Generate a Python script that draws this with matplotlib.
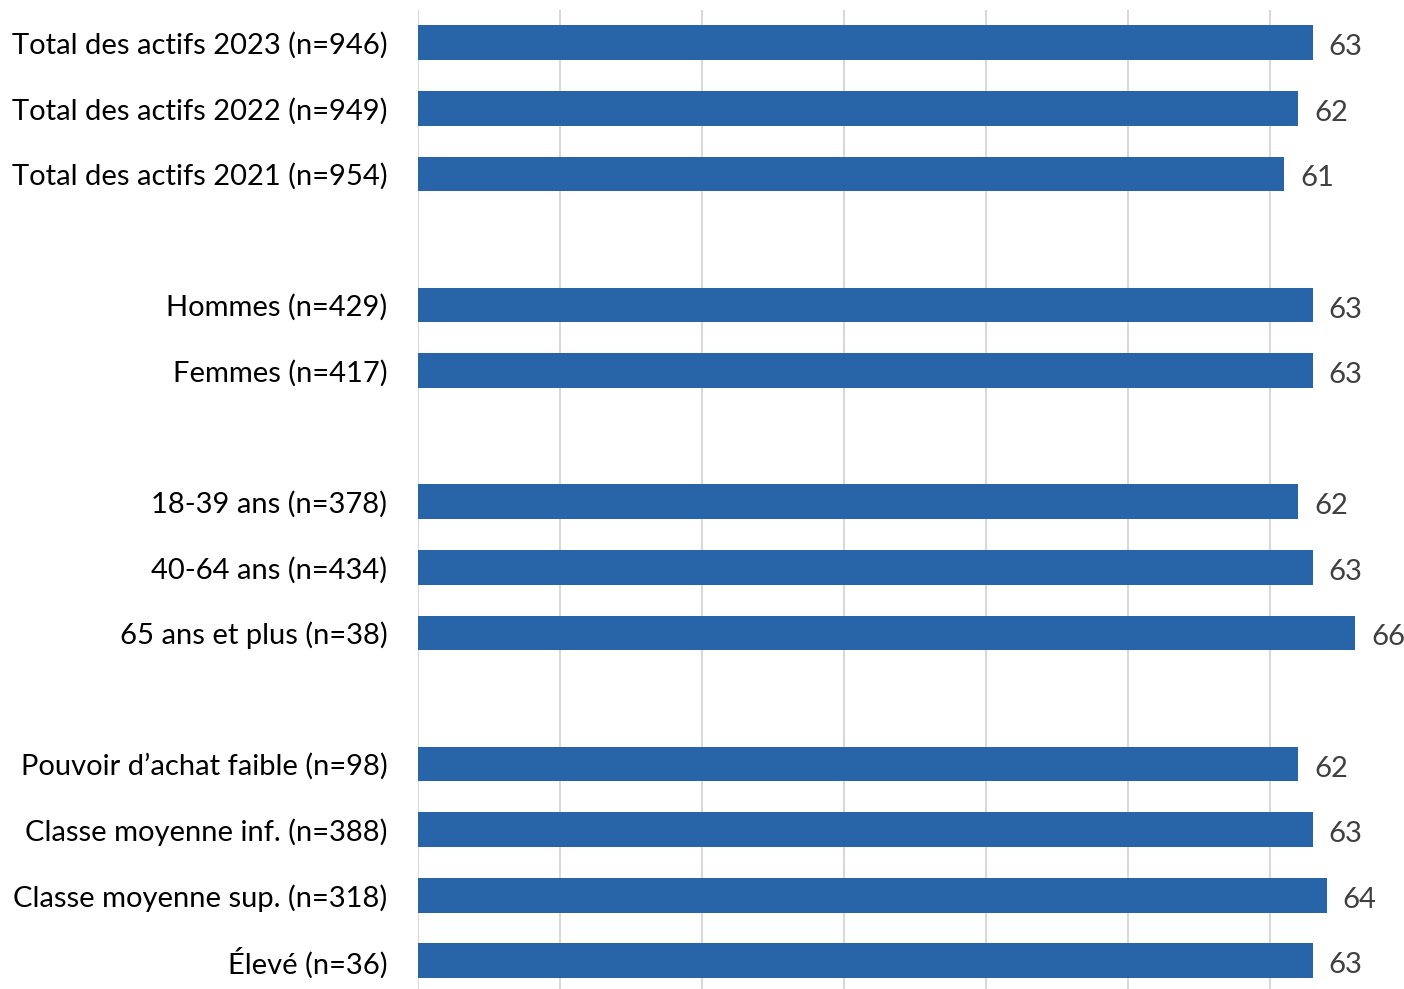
import matplotlib
matplotlib.use("Agg")
import matplotlib.pyplot as plt

categories = [
    "Total des actifs 2023 (n=946)",
    "Total des actifs 2022 (n=949)",
    "Total des actifs 2021 (n=954)",
    None,
    "Hommes (n=429)",
    "Femmes (n=417)",
    None,
    "18-39 ans (n=378)",
    "40-64 ans (n=434)",
    "65 ans et plus (n=38)",
    None,
    "Pouvoir d\u2019achat faible (n=98)",
    "Classe moyenne inf. (n=388)",
    "Classe moyenne sup. (n=318)",
    "\u00c9lev\u00e9 (n=36)",
]
values = [63, 62, 61, None, 63, 63, None, 62, 63, 66, None, 62, 63, 64, 63]

W, H = 1404, 989
fig = plt.figure(figsize=(W / 100, H / 100), dpi=100)
left, right, top, bottom = 418, 1404, 10, 989
ax = fig.add_axes([left / W, 1 - bottom / H, (right - left) / W, (bottom - top) / H])

font = "Lato"
bar_color = "#2764A8"
pos = [i for i, v in enumerate(values) if v is not None]
vals = [values[i] for i in pos]
labs = [categories[i] for i in pos]

ax.barh(pos, vals, height=0.53, color=bar_color, zorder=3)
ax.set_xlim(0, (right - left) / 14.2)
ax.set_ylim(14.43, -0.5)
ax.set_xticks(range(0, 70, 10))
ax.xaxis.grid(True, color="#D9D9D9", linewidth=1.5, zorder=0)
ax.tick_params(axis="x", length=0, labelbottom=False)
ax.tick_params(axis="y", length=0, pad=22)
ax.set_yticks(pos)
ax.set_yticklabels(labs, fontsize=21, fontfamily=font, color="black")
for s in ax.spines.values():
    s.set_visible(False)

for p, v in zip(pos, vals):
    ax.annotate(str(v), xy=(v, p), xytext=(16, -2), textcoords="offset pixels",
                va="center_baseline", ha="left", fontsize=21,
                fontfamily=font, color="#404040")

fig.savefig("out.png", dpi=100)
